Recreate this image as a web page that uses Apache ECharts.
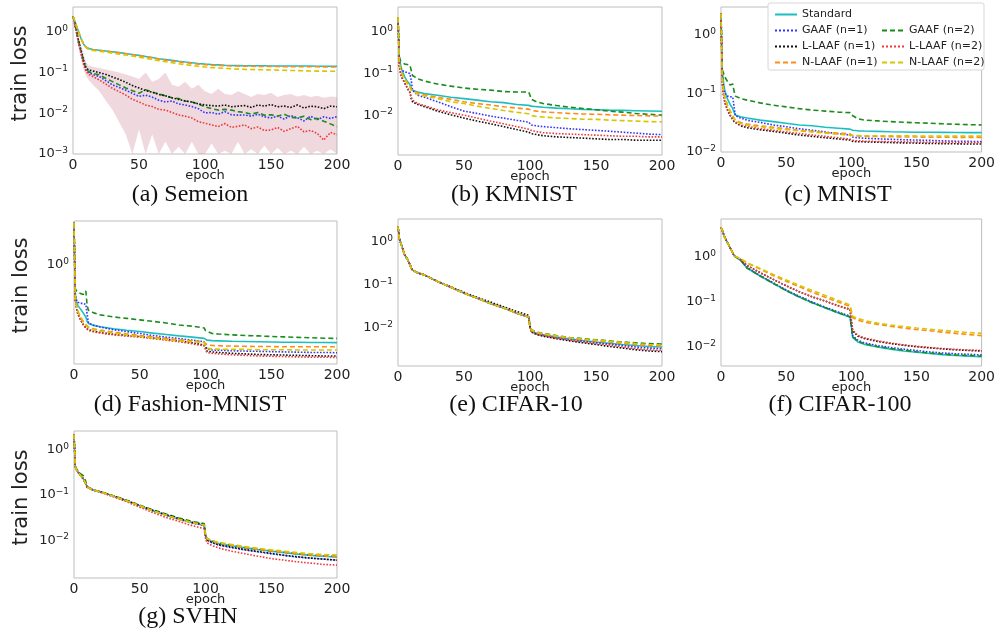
<!DOCTYPE html>
<html>
<head>
<meta charset="utf-8">
<script src="https://cdn.jsdelivr.net/npm/echarts@6/dist/echarts.min.js"></script>
<style>
  html, body { margin: 0; padding: 0; background: #fff; }
  #chart { width: 998px; height: 628px; }
</style>
</head>
<body>
<div id="chart"></div>
<script>
// series order in every panel
var seriesNames = ['Standard', 'GAAF (n=1)', 'GAAF (n=2)', 'L-LAAF (n=1)', 'L-LAAF (n=2)', 'N-LAAF (n=1)', 'N-LAAF (n=2)'];

var epochs = [0, 1, 2, 3, 5, 7, 9, 10, 11, 15, 20, 30, 40, 50, 60, 70, 80, 90, 99, 100, 101, 105, 110, 120, 130, 140, 150, 160, 170, 180, 190, 200];
var semeionEpochs = [0, 2, 4, 6, 8, 10, 12, 15, 20, 25, 30, 35, 40, 45, 50, 55, 60, 65, 70, 75, 80, 85, 90, 95, 100,
  105, 110, 115, 120, 125, 130, 135, 140, 145, 150, 155, 160, 165, 170, 175, 180, 185, 190, 195, 200];

var semeionLoss = [
  [2.4, 1.6, 1.05, 0.7, 0.5, 0.42, 0.39, 0.37, 0.355, 0.34, 0.325, 0.31, 0.295, 0.28, 0.265, 0.25, 0.235, 0.22, 0.21, 0.2, 0.19, 0.182, 0.175, 0.168, 0.162, 0.158, 0.155, 0.152, 0.15, 0.149, 0.148, 0.148, 0.147, 0.147, 0.146, 0.146, 0.146, 0.145, 0.145, 0.145, 0.145, 0.144, 0.144, 0.144, 0.144],
  [2.4, 1.3, 0.6, 0.33, 0.18, 0.115, 0.1, 0.09, 0.08, 0.063, 0.05, 0.043, 0.037, 0.031, 0.026, 0.028, 0.025, 0.021, 0.019, 0.02, 0.017, 0.016, 0.0147, 0.013, 0.0102, 0.0105, 0.0095, 0.011, 0.0092, 0.009, 0.0091, 0.0085, 0.0095, 0.0082, 0.0077, 0.0085, 0.0072, 0.0088, 0.0078, 0.0065, 0.0085, 0.007, 0.0082, 0.0075, 0.0083],
  [2.4, 1.3, 0.62, 0.34, 0.19, 0.12, 0.105, 0.095, 0.088, 0.072, 0.06, 0.05, 0.042, 0.036, 0.031, 0.038, 0.033, 0.03, 0.027, 0.024, 0.023, 0.02, 0.019, 0.017, 0.0145, 0.013, 0.012, 0.0125, 0.012, 0.011, 0.0105, 0.0095, 0.0105, 0.009, 0.0092, 0.0085, 0.0095, 0.008, 0.0077, 0.0085, 0.007, 0.0075, 0.0064, 0.0055, 0.0047],
  [2.4, 1.3, 0.65, 0.36, 0.2, 0.13, 0.115, 0.11, 0.1, 0.09, 0.078, 0.068, 0.058, 0.048, 0.042, 0.036, 0.033, 0.029, 0.027, 0.024, 0.022, 0.02, 0.019, 0.017, 0.016, 0.0155, 0.015, 0.016, 0.0145, 0.015, 0.0155, 0.014, 0.016, 0.015, 0.0165, 0.0145, 0.015, 0.014, 0.016, 0.0135, 0.015, 0.0145, 0.013, 0.015, 0.0145],
  [2.4, 1.25, 0.55, 0.3, 0.16, 0.105, 0.09, 0.08, 0.066, 0.052, 0.041, 0.034, 0.028, 0.022, 0.019, 0.016, 0.0147, 0.0125, 0.012, 0.0105, 0.0091, 0.0085, 0.0077, 0.0062, 0.0057, 0.0052, 0.0047, 0.0056, 0.0045, 0.0048, 0.0052, 0.0042, 0.0046, 0.0038, 0.0039, 0.0045, 0.0036, 0.0042, 0.0048, 0.0035, 0.0038, 0.0032, 0.0022, 0.0034, 0.003],
  [2.4, 1.6, 1.05, 0.7, 0.5, 0.42, 0.38, 0.365, 0.35, 0.335, 0.32, 0.305, 0.29, 0.275, 0.26, 0.245, 0.23, 0.215, 0.203, 0.193, 0.184, 0.176, 0.169, 0.162, 0.157, 0.153, 0.15, 0.148, 0.146, 0.145, 0.144, 0.143, 0.142, 0.142, 0.141, 0.141, 0.14, 0.14, 0.14, 0.139, 0.139, 0.139, 0.138, 0.138, 0.138],
  [2.4, 1.6, 1.05, 0.7, 0.5, 0.41, 0.37, 0.35, 0.335, 0.32, 0.3, 0.285, 0.27, 0.255, 0.24, 0.225, 0.21, 0.197, 0.185, 0.175, 0.165, 0.157, 0.15, 0.143, 0.137, 0.133, 0.13, 0.127, 0.124, 0.122, 0.12, 0.119, 0.118, 0.117, 0.116, 0.115, 0.114, 0.113, 0.112, 0.111, 0.11, 0.109, 0.109, 0.108, 0.108]
];
// spread of the lower Semeion runs (shaded band)
var semeionBandLow = [2.4, 1.1, 0.45, 0.22, 0.12, 0.08, 0.065, 0.05, 0.035, 0.02, 0.012, 0.006, 0.003, 0.001, 0.004, 0.001, 0.003, 0.001, 0.002, 0.001, 0.0015, 0.001, 0.002, 0.001, 0.001, 0.0018, 0.001, 0.0012, 0.001, 0.002, 0.001, 0.0013, 0.001, 0.0016, 0.001, 0.0014, 0.001, 0.0012, 0.001, 0.0015, 0.001, 0.0012, 0.001, 0.0013, 0.001];
var semeionBandHigh = [2.4, 1.5, 0.8, 0.5, 0.3, 0.18, 0.15, 0.14, 0.13, 0.12, 0.11, 0.1, 0.09, 0.08, 0.07, 0.1, 0.06, 0.07, 0.1, 0.05, 0.045, 0.06, 0.04, 0.05, 0.035, 0.03, 0.04, 0.03, 0.028, 0.035, 0.03, 0.025, 0.03, 0.028, 0.032, 0.025, 0.028, 0.03, 0.026, 0.028, 0.025, 0.027, 0.024, 0.026, 0.025];

var kmnistLoss = [
  [2.3, 0.25, 0.16, 0.12, 0.085, 0.065, 0.055, 0.045, 0.04, 0.036, 0.033, 0.03, 0.027, 0.025, 0.023, 0.021, 0.02, 0.018, 0.0172, 0.0168, 0.0165, 0.016, 0.0155, 0.0148, 0.0142, 0.0138, 0.0135, 0.0132, 0.013, 0.0128, 0.0126, 0.0124],
  [2.3, 0.2, 0.14, 0.12, 0.11, 0.105, 0.1, 0.07, 0.04, 0.03, 0.027, 0.021, 0.016, 0.0125, 0.011, 0.0095, 0.0085, 0.0075, 0.0068, 0.0062, 0.0058, 0.0055, 0.0053, 0.005, 0.0047, 0.0045, 0.0043, 0.0041, 0.0039, 0.0037, 0.0035, 0.0034],
  [2.3, 0.25, 0.2, 0.19, 0.17, 0.165, 0.16, 0.12, 0.09, 0.075, 0.066, 0.056, 0.05, 0.045, 0.042, 0.04, 0.037, 0.036, 0.036, 0.03, 0.024, 0.021, 0.019, 0.017, 0.0155, 0.0145, 0.0135, 0.0125, 0.0118, 0.011, 0.0105, 0.01],
  [2.3, 0.15, 0.1, 0.08, 0.06, 0.045, 0.035, 0.025, 0.021, 0.018, 0.016, 0.0125, 0.0102, 0.0085, 0.0072, 0.0062, 0.0053, 0.0045, 0.0039, 0.0037, 0.0036, 0.0034, 0.0032, 0.003, 0.0029, 0.0028, 0.0027, 0.0026, 0.0026, 0.0025, 0.0025, 0.0025],
  [2.3, 0.15, 0.1, 0.08, 0.06, 0.046, 0.036, 0.027, 0.023, 0.019, 0.017, 0.0135, 0.0115, 0.01, 0.0085, 0.0072, 0.0062, 0.0053, 0.0046, 0.0044, 0.0043, 0.004, 0.0038, 0.0036, 0.0035, 0.0034, 0.0033, 0.0032, 0.0031, 0.0031, 0.003, 0.003],
  [2.3, 0.2, 0.13, 0.1, 0.075, 0.06, 0.05, 0.042, 0.039, 0.034, 0.031, 0.027, 0.024, 0.021, 0.019, 0.0175, 0.016, 0.0148, 0.014, 0.0133, 0.013, 0.0125, 0.012, 0.0115, 0.011, 0.0107, 0.0105, 0.0102, 0.01, 0.0098, 0.0096, 0.0095],
  [2.3, 0.2, 0.13, 0.1, 0.075, 0.058, 0.048, 0.04, 0.037, 0.032, 0.029, 0.025, 0.021, 0.019, 0.0165, 0.0145, 0.013, 0.0117, 0.0108, 0.0102, 0.0098, 0.0093, 0.009, 0.0086, 0.0083, 0.008, 0.0079, 0.0076, 0.0074, 0.0072, 0.007, 0.0069]
];

var mnistLoss = [
  [2.3, 0.25, 0.15, 0.11, 0.08, 0.065, 0.055, 0.048, 0.043, 0.04, 0.038, 0.035, 0.033, 0.031, 0.029, 0.028, 0.0265, 0.0255, 0.0246, 0.024, 0.0235, 0.023, 0.0228, 0.0225, 0.0222, 0.022, 0.0218, 0.0217, 0.0216, 0.0215, 0.0214, 0.0214],
  [2.3, 0.2, 0.12, 0.1, 0.09, 0.088, 0.087, 0.06, 0.042, 0.038, 0.035, 0.032, 0.029, 0.027, 0.025, 0.0235, 0.022, 0.0205, 0.0195, 0.0185, 0.018, 0.0175, 0.0172, 0.0168, 0.0165, 0.0162, 0.016, 0.0158, 0.0155, 0.0153, 0.0152, 0.015],
  [2.3, 0.25, 0.22, 0.19, 0.16, 0.14, 0.145, 0.11, 0.09, 0.082, 0.077, 0.069, 0.063, 0.059, 0.055, 0.052, 0.05, 0.048, 0.047, 0.043, 0.04, 0.037, 0.035, 0.034, 0.033, 0.0322, 0.0316, 0.031, 0.0303, 0.0298, 0.0293, 0.029],
  [2.3, 0.15, 0.09, 0.07, 0.052, 0.042, 0.036, 0.033, 0.031, 0.028, 0.026, 0.024, 0.0225, 0.021, 0.0195, 0.0185, 0.0175, 0.0167, 0.016, 0.0155, 0.0152, 0.015, 0.0149, 0.0147, 0.0145, 0.0143, 0.0142, 0.014, 0.0139, 0.0138, 0.0137, 0.0137],
  [2.3, 0.15, 0.09, 0.07, 0.053, 0.043, 0.037, 0.034, 0.032, 0.029, 0.0275, 0.025, 0.0235, 0.022, 0.0207, 0.0195, 0.0185, 0.0175, 0.0166, 0.016, 0.0158, 0.0155, 0.0153, 0.0151, 0.015, 0.0149, 0.0148, 0.0147, 0.0146, 0.0146, 0.0145, 0.0145],
  [2.3, 0.18, 0.11, 0.085, 0.062, 0.05, 0.042, 0.038, 0.035, 0.032, 0.03, 0.028, 0.0265, 0.025, 0.0235, 0.0225, 0.0215, 0.021, 0.0204, 0.0195, 0.019, 0.0188, 0.0186, 0.0184, 0.0182, 0.0181, 0.018, 0.0179, 0.0179, 0.0178, 0.0178, 0.0178],
  [2.3, 0.18, 0.11, 0.085, 0.062, 0.05, 0.042, 0.037, 0.034, 0.031, 0.029, 0.027, 0.0255, 0.024, 0.023, 0.022, 0.021, 0.02, 0.0195, 0.0193, 0.0192, 0.0191, 0.019, 0.019, 0.0189, 0.0189, 0.0188, 0.0188, 0.0187, 0.0187, 0.0187, 0.0187]
];

var fashionLoss = [
  [2.3, 0.55, 0.48, 0.45, 0.42, 0.39, 0.36, 0.33, 0.317, 0.305, 0.297, 0.285, 0.277, 0.27, 0.262, 0.255, 0.248, 0.242, 0.236, 0.232, 0.228, 0.226, 0.225, 0.223, 0.222, 0.221, 0.22, 0.219, 0.219, 0.218, 0.218, 0.217],
  [2.3, 0.55, 0.5, 0.48, 0.47, 0.47, 0.46, 0.38, 0.32, 0.305, 0.295, 0.28, 0.27, 0.26, 0.25, 0.242, 0.235, 0.228, 0.221, 0.205, 0.192, 0.188, 0.187, 0.185, 0.184, 0.183, 0.182, 0.181, 0.18, 0.179, 0.179, 0.178],
  [2.3, 0.63, 0.6, 0.58, 0.57, 0.56, 0.6, 0.45, 0.41, 0.39, 0.375, 0.36, 0.35, 0.34, 0.33, 0.32, 0.307, 0.3, 0.29, 0.275, 0.265, 0.26, 0.257, 0.253, 0.25, 0.248, 0.245, 0.243, 0.241, 0.239, 0.237, 0.236],
  [2.3, 0.5, 0.42, 0.38, 0.34, 0.31, 0.29, 0.287, 0.28, 0.272, 0.265, 0.256, 0.25, 0.245, 0.238, 0.231, 0.224, 0.216, 0.207, 0.195, 0.184, 0.181, 0.179, 0.176, 0.174, 0.172, 0.171, 0.17, 0.169, 0.168, 0.167, 0.167],
  [2.3, 0.5, 0.42, 0.38, 0.34, 0.31, 0.29, 0.282, 0.276, 0.268, 0.262, 0.253, 0.247, 0.242, 0.235, 0.228, 0.221, 0.212, 0.204, 0.19, 0.179, 0.176, 0.174, 0.171, 0.169, 0.167, 0.166, 0.165, 0.164, 0.163, 0.163, 0.162],
  [2.3, 0.52, 0.44, 0.4, 0.36, 0.33, 0.31, 0.3, 0.295, 0.285, 0.278, 0.267, 0.258, 0.25, 0.243, 0.236, 0.23, 0.225, 0.221, 0.212, 0.207, 0.205, 0.204, 0.203, 0.202, 0.201, 0.201, 0.2, 0.2, 0.2, 0.2, 0.2],
  [2.3, 0.52, 0.44, 0.4, 0.36, 0.33, 0.31, 0.296, 0.29, 0.28, 0.273, 0.262, 0.253, 0.245, 0.238, 0.231, 0.225, 0.221, 0.217, 0.203, 0.194, 0.192, 0.191, 0.19, 0.19, 0.189, 0.189, 0.189, 0.188, 0.188, 0.188, 0.188]
];

var cifar10Loss = [
  [2.3, 1.2, 0.95, 0.78, 0.5, 0.4, 0.3, 0.245, 0.22, 0.19, 0.17, 0.12, 0.088, 0.064, 0.049, 0.037, 0.029, 0.022, 0.018, 0.0107, 0.0085, 0.0075, 0.0069, 0.0061, 0.0056, 0.0051, 0.0047, 0.0044, 0.0041, 0.0039, 0.0037, 0.0036],
  [2.3, 1.2, 0.95, 0.78, 0.5, 0.4, 0.3, 0.245, 0.22, 0.19, 0.17, 0.12, 0.088, 0.065, 0.05, 0.038, 0.029, 0.022, 0.018, 0.0105, 0.0083, 0.0073, 0.0067, 0.0059, 0.0053, 0.0049, 0.0045, 0.0042, 0.0039, 0.0036, 0.0034, 0.0033],
  [2.3, 1.2, 0.95, 0.78, 0.5, 0.4, 0.3, 0.245, 0.22, 0.19, 0.17, 0.12, 0.088, 0.064, 0.049, 0.037, 0.029, 0.022, 0.018, 0.011, 0.009, 0.008, 0.0074, 0.0066, 0.006, 0.0056, 0.0053, 0.005, 0.0047, 0.0045, 0.0043, 0.0042],
  [2.3, 1.2, 0.95, 0.78, 0.5, 0.4, 0.3, 0.245, 0.22, 0.19, 0.17, 0.12, 0.09, 0.067, 0.051, 0.04, 0.031, 0.024, 0.0195, 0.0105, 0.008, 0.007, 0.0064, 0.0056, 0.005, 0.0045, 0.0041, 0.0037, 0.0034, 0.0031, 0.0029, 0.0028],
  [2.3, 1.2, 0.95, 0.78, 0.5, 0.4, 0.3, 0.245, 0.22, 0.19, 0.17, 0.12, 0.088, 0.064, 0.049, 0.037, 0.029, 0.022, 0.018, 0.0103, 0.0082, 0.0072, 0.0066, 0.0058, 0.0052, 0.0047, 0.0043, 0.004, 0.0036, 0.0033, 0.0031, 0.003],
  [2.3, 1.2, 0.95, 0.78, 0.5, 0.4, 0.3, 0.245, 0.22, 0.19, 0.17, 0.12, 0.088, 0.064, 0.049, 0.037, 0.029, 0.022, 0.018, 0.0108, 0.0087, 0.0077, 0.0071, 0.0064, 0.0058, 0.0054, 0.005, 0.0047, 0.0044, 0.0041, 0.0039, 0.0038],
  [2.3, 1.2, 0.95, 0.78, 0.5, 0.4, 0.3, 0.245, 0.22, 0.19, 0.17, 0.12, 0.088, 0.064, 0.049, 0.037, 0.029, 0.022, 0.018, 0.011, 0.0089, 0.0079, 0.0073, 0.0065, 0.0059, 0.0055, 0.0052, 0.0049, 0.0046, 0.0043, 0.0041, 0.004]
];

var cifar100Loss = [
  [4.6, 3.9, 3.2, 2.7, 2.1, 1.6, 1.25, 1.07, 0.98, 0.85, 0.57, 0.38, 0.26, 0.18, 0.13, 0.096, 0.074, 0.057, 0.046, 0.029, 0.0165, 0.013, 0.0115, 0.01, 0.009, 0.0082, 0.0077, 0.0072, 0.0068, 0.0065, 0.0063, 0.0061],
  [4.6, 3.9, 3.2, 2.7, 2.1, 1.6, 1.25, 1.07, 0.98, 0.86, 0.58, 0.39, 0.27, 0.185, 0.135, 0.1, 0.077, 0.06, 0.049, 0.031, 0.018, 0.0142, 0.0124, 0.0108, 0.0098, 0.009, 0.0084, 0.0078, 0.0074, 0.0071, 0.0069, 0.0067],
  [4.6, 3.9, 3.2, 2.7, 2.1, 1.6, 1.25, 1.07, 0.98, 0.85, 0.57, 0.38, 0.26, 0.18, 0.13, 0.097, 0.075, 0.058, 0.047, 0.03, 0.017, 0.0135, 0.0118, 0.0103, 0.0093, 0.0085, 0.0079, 0.0074, 0.007, 0.0067, 0.0065, 0.0063],
  [4.6, 3.9, 3.2, 2.7, 2.1, 1.6, 1.25, 1.07, 0.98, 0.88, 0.65, 0.45, 0.32, 0.23, 0.17, 0.13, 0.105, 0.083, 0.069, 0.04, 0.023, 0.0175, 0.0155, 0.0134, 0.012, 0.011, 0.0102, 0.0096, 0.0091, 0.0087, 0.0084, 0.0082],
  [4.6, 3.9, 3.2, 2.7, 2.1, 1.6, 1.25, 1.07, 0.98, 0.88, 0.65, 0.45, 0.32, 0.23, 0.17, 0.13, 0.105, 0.082, 0.068, 0.04, 0.024, 0.018, 0.016, 0.0138, 0.0123, 0.0112, 0.0104, 0.0098, 0.0093, 0.0089, 0.0086, 0.0084],
  [4.6, 3.9, 3.2, 2.7, 2.1, 1.6, 1.25, 1.07, 0.98, 0.91, 0.73, 0.54, 0.39, 0.29, 0.22, 0.165, 0.128, 0.1, 0.08, 0.06, 0.045, 0.04, 0.036, 0.032, 0.029, 0.0265, 0.0245, 0.023, 0.0215, 0.0202, 0.019, 0.018],
  [4.6, 3.9, 3.2, 2.7, 2.1, 1.6, 1.25, 1.07, 0.98, 0.92, 0.75, 0.56, 0.41, 0.31, 0.235, 0.18, 0.14, 0.108, 0.086, 0.065, 0.048, 0.043, 0.039, 0.034, 0.031, 0.0285, 0.0265, 0.025, 0.0235, 0.0222, 0.021, 0.0202]
];

var svhnLoss = [
  [2.2, 0.42, 0.36, 0.33, 0.27, 0.23, 0.18, 0.15, 0.14, 0.128, 0.118, 0.095, 0.075, 0.058, 0.045, 0.036, 0.029, 0.0245, 0.0215, 0.013, 0.0106, 0.0093, 0.0084, 0.0075, 0.0068, 0.0062, 0.0057, 0.0053, 0.0049, 0.0046, 0.0044, 0.0042],
  [2.2, 0.42, 0.36, 0.33, 0.27, 0.23, 0.18, 0.15, 0.14, 0.128, 0.118, 0.095, 0.075, 0.058, 0.045, 0.036, 0.029, 0.024, 0.021, 0.0125, 0.0101, 0.0088, 0.0078, 0.0068, 0.0061, 0.0055, 0.005, 0.0046, 0.0042, 0.004, 0.0038, 0.0036],
  [2.2, 0.44, 0.38, 0.35, 0.3, 0.27, 0.2, 0.155, 0.142, 0.13, 0.12, 0.097, 0.077, 0.06, 0.047, 0.038, 0.031, 0.026, 0.0235, 0.0135, 0.011, 0.0097, 0.0087, 0.0077, 0.0069, 0.0063, 0.0058, 0.0054, 0.005, 0.0047, 0.0045, 0.0044],
  [2.2, 0.42, 0.36, 0.33, 0.27, 0.23, 0.18, 0.15, 0.14, 0.128, 0.118, 0.095, 0.076, 0.059, 0.046, 0.037, 0.03, 0.025, 0.0225, 0.0128, 0.0102, 0.0089, 0.0079, 0.007, 0.0062, 0.0056, 0.0051, 0.0046, 0.0043, 0.004, 0.0038, 0.0036],
  [2.2, 0.42, 0.36, 0.33, 0.27, 0.23, 0.18, 0.15, 0.14, 0.127, 0.116, 0.092, 0.071, 0.054, 0.041, 0.032, 0.026, 0.021, 0.018, 0.0112, 0.0088, 0.0076, 0.0067, 0.0057, 0.005, 0.0044, 0.0039, 0.0036, 0.0033, 0.0031, 0.0029, 0.0028],
  [2.2, 0.42, 0.36, 0.33, 0.27, 0.23, 0.18, 0.15, 0.14, 0.128, 0.118, 0.095, 0.075, 0.058, 0.045, 0.036, 0.029, 0.0245, 0.0215, 0.0132, 0.0108, 0.0095, 0.0086, 0.0077, 0.0069, 0.0063, 0.0058, 0.0054, 0.005, 0.0047, 0.0045, 0.0043],
  [2.2, 0.42, 0.36, 0.33, 0.27, 0.23, 0.18, 0.15, 0.14, 0.128, 0.118, 0.095, 0.075, 0.058, 0.045, 0.036, 0.029, 0.0245, 0.022, 0.0135, 0.011, 0.0098, 0.0089, 0.008, 0.0072, 0.0066, 0.0061, 0.0057, 0.0053, 0.005, 0.0048, 0.0047]
];

var lineColors = ['#1cbfc0', '#3434ff', '#1b8c1b', '#111111', '#f03a3a', '#ff8c1a', '#d4c600'];
var lineTypes = ['solid', 'dotted', [5, 3], 'dotted', 'dotted', [5, 3], [5, 3]];

var panels = [
  { loss: semeionLoss, x: semeionEpochs, left: 73, top: 7, width: 264, height: 147, min: 0.001, max: 4.1, yName: true, caption: '(a) Semeion', cx: 190, cy: 195 },
  { loss: kmnistLoss, x: epochs, left: 398, top: 7, width: 264, height: 148, min: 0.0011, max: 4, caption: '(b) KMNIST', cx: 514, cy: 195 },
  { loss: mnistLoss, x: epochs, left: 721, top: 7, width: 264, height: 145, min: 0.01, max: 3, caption: '(c) MNIST', cx: 838, cy: 195 },
  { loss: fashionLoss, x: epochs, left: 74, top: 221, width: 263, height: 143, min: 0.1426, max: 2.38, yName: true, caption: '(d) Fashion-MNIST', cx: 190, cy: 405 },
  { loss: cifar10Loss, x: epochs, left: 398, top: 219, width: 264, height: 147, min: 0.0013, max: 3.4, caption: '(e) CIFAR-10', cx: 516, cy: 405 },
  { loss: cifar100Loss, x: epochs, left: 721, top: 219, width: 263, height: 147, min: 0.0038, max: 7, caption: '(f) CIFAR-100', cx: 840, cy: 405 },
  { loss: svhnLoss, x: epochs, left: 74, top: 431, width: 263, height: 147, min: 0.00145, max: 2.64, yName: true, caption: '(g) SVHN', cx: 188, cy: 617 }
];

function decadeLabel(v) {
  var lg = Math.log10(v);
  var e = Math.round(lg);
  if (Math.abs(lg - e) > 1e-6) return '';
  return '{b|10}{s|' + (e < 0 ? '\u2212' + (-e) : e) + '}';
}

var grids = [], xAxes = [], yAxes = [], series = [], graphics = [];

panels.forEach(function (p, i) {
  grids.push({
    left: p.left, top: p.top, width: p.width, height: p.height,
    show: true, borderColor: '#bdbdbd', borderWidth: 1
  });
  xAxes.push({
    gridIndex: i, type: 'value', min: 0, max: 200, interval: 50,
    axisLine: { show: false }, axisTick: { show: false }, splitLine: { show: false },
    axisLabel: { fontSize: 14, color: '#222', margin: 4, fontFamily: 'DejaVu Sans' },
    name: 'epoch', nameLocation: 'middle', nameGap: 15, nameMoveOverlap: false,
    nameTextStyle: { fontSize: 13, color: '#222', fontFamily: 'DejaVu Sans' }
  });
  yAxes.push({
    gridIndex: i, type: 'log', logBase: 10, min: p.min, max: p.max,
    axisLine: { show: false }, axisTick: { show: false }, splitLine: { show: false },
    axisLabel: {
      margin: 5, formatter: decadeLabel,
      rich: {
        b: { fontSize: 13, color: '#222', fontFamily: 'DejaVu Sans', lineHeight: 16 },
        s: { fontSize: 9, color: '#222', fontFamily: 'DejaVu Sans', lineHeight: 9, verticalAlign: 'top' }
      }
    },
    name: p.yName ? 'train loss' : '', nameLocation: 'middle', nameGap: 42, nameMoveOverlap: false,
    nameTextStyle: { fontSize: 21, color: '#222', fontFamily: 'DejaVu Sans', padding: [0, 0, 0, 14] }
  });
  if (i === 0) {
    // shaded spread under the lower Semeion runs, drawn through the axes' own coordinates
    series.push({
      type: 'custom', xAxisIndex: 0, yAxisIndex: 0, silent: true, z: 1,
      data: [[0, 0.001]],
      renderItem: function (params, api) {
        var pts = [];
        semeionEpochs.forEach(function (e, j) { pts.push(api.coord([e, semeionBandHigh[j]])); });
        for (var j = semeionEpochs.length - 1; j >= 0; j--) {
          pts.push(api.coord([semeionEpochs[j], semeionBandLow[j]]));
        }
        return { type: 'polygon', shape: { points: pts }, style: { fill: 'rgba(205, 140, 155, 0.33)' } };
      }
    });
  }
  p.loss.forEach(function (vals, k) {
    series.push({
      name: seriesNames[k], type: 'line', xAxisIndex: i, yAxisIndex: i,
      symbol: 'none', smooth: false,
      lineStyle: { color: lineColors[k], width: 1.6, type: lineTypes[k] },
      itemStyle: { color: lineColors[k] },
      data: p.x.map(function (e, j) { return [e, vals[j]]; })
    });
  });
  graphics.push({
    type: 'text', x: p.cx, y: p.cy, z: 5,
    style: { text: p.caption, font: '24px "Liberation Serif"', fill: '#111', textAlign: 'center', textVerticalAlign: 'middle' }
  });
});

// legend frame inside panel (c)
graphics.push({
  type: 'rect', z: 3,
  shape: { x: 768, y: 3, width: 216, height: 67, r: 2 },
  style: { fill: '#fff', stroke: '#d6d6d6', lineWidth: 1 }
});

var legendText = { fontSize: 11, color: '#222', fontFamily: 'DejaVu Sans', lineHeight: 11 };

var chart = echarts.init(document.getElementById('chart'));
chart.setOption({
  animation: false,
  backgroundColor: '#fff',
  grid: grids,
  xAxis: xAxes,
  yAxis: yAxes,
  legend: [
    { data: [seriesNames[0], seriesNames[1], seriesNames[3], seriesNames[5]], orient: 'vertical', left: 774, top: 9, padding: 0,
      itemWidth: 22, itemHeight: 8, itemGap: 5, selectedMode: false, textStyle: legendText, itemStyle: { opacity: 0 }, z: 6 },
    { data: [seriesNames[2], seriesNames[4], seriesNames[6]], orient: 'vertical', left: 881, top: 25, padding: 0,
      itemWidth: 22, itemHeight: 8, itemGap: 5, selectedMode: false, textStyle: legendText, itemStyle: { opacity: 0 }, z: 6 }
  ],
  graphic: graphics,
  series: series
});
</script>
</body>
</html>
